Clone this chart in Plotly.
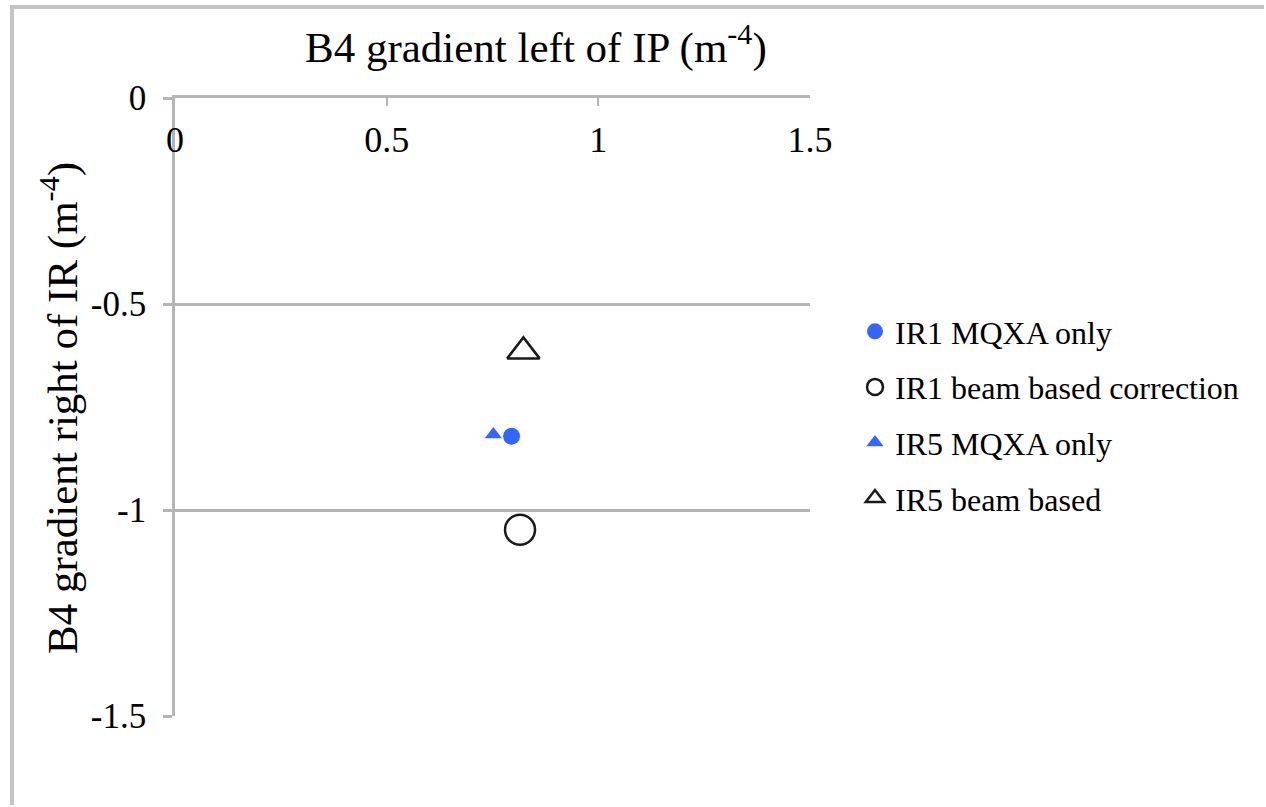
import plotly.graph_objects as go

# ---- data ----
series_names = ["IR1 MQXA only", "IR1 beam based correction", "IR5 MQXA only", "IR5 beam based"]
x_left_ip = [0.795, 0.815, 0.752, 0.823]
y_right_ir = [-0.821, -1.048, -0.817, -0.615]
x_tick_vals = [0, 0.5, 1, 1.5]
x_tick_text = ["0", "0.5", "1", "1.5"]
y_tick_vals = [0, -0.5, -1, -1.5]
y_tick_text = ["0", "-0.5", "-1", "-1.5"]
x_title = "B4 gradient left of IP (m<sup>-4</sup>)"
y_title = "B4 gradient right of IR (m<sup>-4</sup>)"

# ---- styles ----
BLUE = "#3366FF"
DARK = "#1a1a1a"
GRID = "#b5b5b5"
FONT = "'Liberation Serif', 'DejaVu Serif', 'Times New Roman', serif"
styles = [
    dict(symbol="circle", size=17, color=BLUE, line=dict(width=0)),
    dict(symbol="circle-open", size=30, color=DARK, line=dict(width=2.5, color=DARK)),
    dict(symbol="triangle-up", size=15, color=BLUE, line=dict(width=0)),
    dict(symbol="triangle-up-open", size=28, color=DARK, line=dict(width=2.5, color=DARK)),
]

W, H = 1266, 807
L, R, T, B = 175, 456, 98, 91
PW, PH = W - L - R, H - T - B

fig = go.Figure()
for i, name in enumerate(series_names):
    fig.add_trace(go.Scatter(
        x=[x_left_ip[i]], y=[y_right_ir[i]], mode="markers", name=name,
        marker=styles[i], legendgroup=str(i),
    ))

def px_x(p):
    return (p - L) / PW

def px_y(p):
    return (H - B - p) / PH

fig.update_layout(
    width=W, height=H,
    margin=dict(l=L, r=R, t=T, b=B, pad=0),
    paper_bgcolor="white", plot_bgcolor="white",
    font=dict(family=FONT, color="black"),
    showlegend=True,
    legend=dict(
        x=px_x(855), y=px_y(304), xanchor="left", yanchor="top",
        font=dict(family=FONT, size=32, color="black"),
        tracegroupgap=11, bgcolor="rgba(0,0,0,0)",
    ),
    xaxis=dict(
        range=[0, 1.5], side="top", tickvals=x_tick_vals, ticktext=x_tick_text,
        showline=True, linecolor=GRID, linewidth=2.5,
        ticks="inside", ticklen=8, tickwidth=2, tickcolor=GRID,
        ticklabelposition="inside", ticklabelstandoff=25, ticklabeloverflow="allow",
        tickfont=dict(family=FONT, size=36, color="black"),
        showgrid=False, zeroline=False,
    ),
    yaxis=dict(
        range=[-1.5, 0], tickvals=y_tick_vals, ticktext=y_tick_text,
        showline=True, linecolor=GRID, linewidth=2.5,
        ticks="outside", ticklen=9, tickwidth=2.5, tickcolor=GRID,
        ticklabelstandoff=10, ticklabeloverflow="allow",
        tickfont=dict(family=FONT, size=35, color="black"),
        showgrid=True, gridcolor=GRID, gridwidth=2.5, zeroline=False,
    ),
    annotations=[
        dict(text=x_title, xref="paper", yref="paper", x=px_x(536), y=px_y(44),
             xanchor="center", yanchor="middle", showarrow=False,
             font=dict(family=FONT, size=43, color="black")),
        dict(text=y_title, xref="paper", yref="paper", x=px_x(60), y=px_y(408),
             xanchor="center", yanchor="middle", showarrow=False, textangle=-90,
             font=dict(family=FONT, size=43, color="black")),
    ],
    shapes=[
        dict(type="line", xref="paper", yref="paper", layer="below",
             x0=px_x(12), x1=px_x(12), y0=px_y(7), y1=px_y(805),
             line=dict(color="#c4c4c4", width=4)),
        dict(type="line", xref="paper", yref="paper", layer="below",
             x0=px_x(10), x1=px_x(1264), y0=px_y(7), y1=px_y(7),
             line=dict(color="#c4c4c4", width=4)),
    ],
)

fig.write_html("out.html")
